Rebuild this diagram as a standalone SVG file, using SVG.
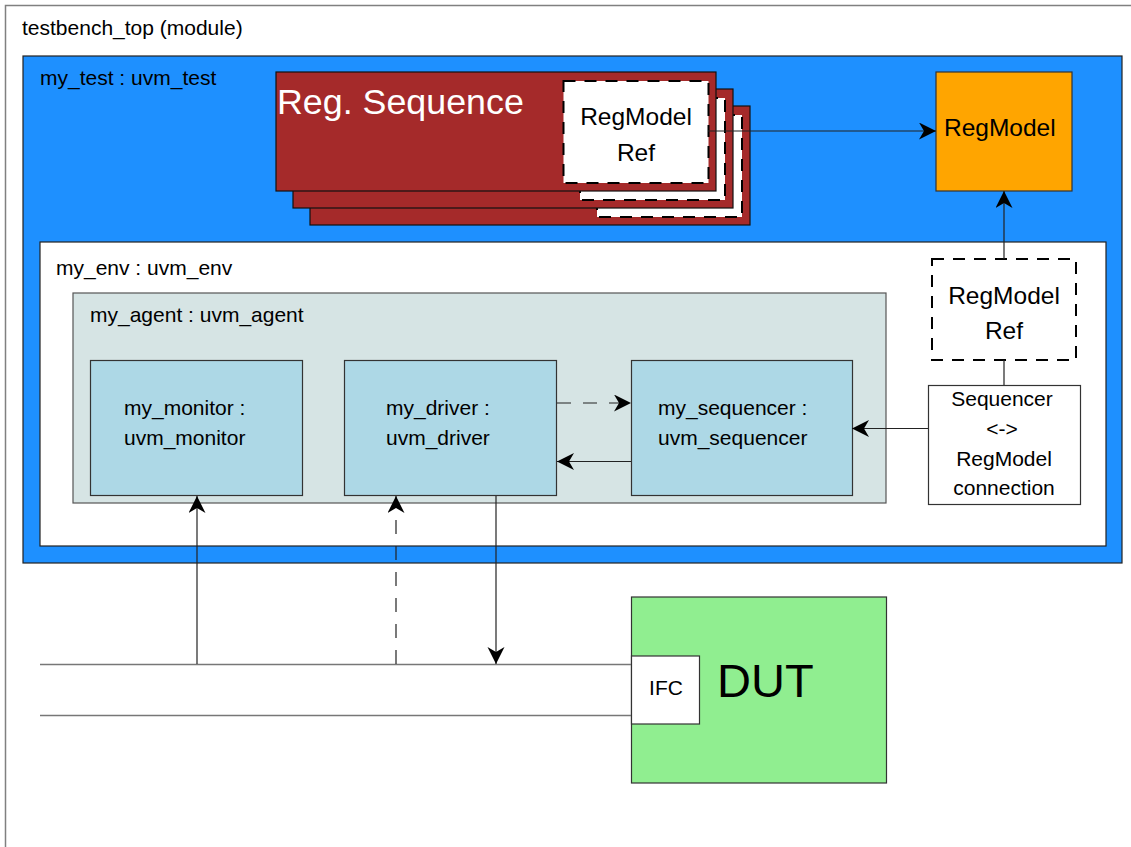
<svg xmlns="http://www.w3.org/2000/svg" width="1131" height="847" viewBox="0 0 1131 847">
<defs>
<style>
text{font-family:"Liberation Sans",Arial,sans-serif;fill:#000}
.lbl{font-size:21px}
.big{font-size:24.5px}
.mid{text-anchor:middle}
.box{stroke:#333;stroke-width:1.2}
.dref{fill:#fff;stroke:#000;stroke-width:2;stroke-dasharray:12 9}
.ln{fill:none;stroke:#222;stroke-width:1.2}
.dash{stroke-dasharray:14 12}
.bus{fill:none;stroke:#777;stroke-width:1.5}
</style>
<marker id="ah" markerWidth="20" markerHeight="18" refX="17" refY="8.5" orient="auto" markerUnits="userSpaceOnUse">
<path d="M0,0 L17,8.5 L0,17 L5,8.5 Z" fill="#000"/>
</marker>
</defs>
<rect width="1131" height="847" fill="#fff"/>
<g id="testbench_top">
<rect x="5.5" y="5.5" width="1140" height="860" fill="#fff" stroke="#808080" stroke-width="1.5"/>
<text class="lbl" x="22" y="35">testbench_top (module)</text>
</g>
<g id="my_test">
<rect x="23" y="56" width="1099" height="507" fill="#1e90ff" stroke="#222" stroke-width="1.2"/>
<text class="lbl" x="40" y="85">my_test : uvm_test</text>
</g>
<g id="reg_sequence">
<rect x="310" y="106" width="440" height="119" fill="#a52a2a" stroke="#111" stroke-width="1.2"/>
<rect x="597" y="115" width="145" height="102" class="dref"/>
<rect x="293" y="89" width="440" height="119" fill="#a52a2a" stroke="#111" stroke-width="1.2"/>
<rect x="580" y="98" width="145" height="102" class="dref"/>
<rect x="276" y="72" width="440" height="119" fill="#a52a2a" stroke="#111" stroke-width="1.2"/>
<text x="277" y="114" font-size="35.8" style="fill:#fff">Reg. Sequence</text>
<rect x="563.5" y="81" width="145" height="102" class="dref"/>
<text class="big mid" x="636" y="125">RegModel</text>
<text class="big mid" x="636" y="161">Ref</text>
</g>
<g id="regmodel">
<rect x="936" y="72" width="136" height="119" fill="#ffa500" class="box"/>
<text class="big" x="944" y="136">RegModel</text>
</g>
<g id="my_env">
<rect x="40" y="242" width="1066" height="304" fill="#fff" stroke="#222" stroke-width="1.2"/>
<text class="lbl" x="56" y="275">my_env : uvm_env</text>
</g>
<g id="env_regmodel_ref">
<rect x="932" y="259" width="144" height="101" class="dref"/>
<text class="big mid" x="1004" y="304">RegModel</text>
<text class="big mid" x="1004" y="339">Ref</text>
</g>
<g id="seq_regmodel_conn">
<rect x="928.5" y="385.5" width="152" height="119" fill="#fff" class="box"/>
<text class="lbl mid" x="1002" y="406">Sequencer</text>
<text class="lbl mid" x="1002" y="436">&lt;-&gt;</text>
<text class="lbl mid" x="1004" y="466">RegModel</text>
<text class="lbl mid" x="1004" y="495">connection</text>
</g>
<g id="my_agent">
<rect x="73" y="293" width="813" height="210" fill="#d6e4e4" stroke="#555" stroke-width="1.2"/>
<text class="lbl" x="90" y="322">my_agent : uvm_agent</text>
</g>
<g id="my_monitor">
<rect x="90.5" y="360.5" width="212" height="135" fill="#add8e6" class="box"/>
<text class="lbl" x="124" y="415">my_monitor :</text>
<text class="lbl" x="124" y="445">uvm_monitor</text>
</g>
<g id="my_driver">
<rect x="344.5" y="360.5" width="212" height="135" fill="#add8e6" class="box"/>
<text class="lbl" x="386" y="415">my_driver :</text>
<text class="lbl" x="386" y="445">uvm_driver</text>
</g>
<g id="my_sequencer">
<rect x="631.5" y="360.5" width="221" height="135" fill="#add8e6" class="box"/>
<text class="lbl" x="658" y="415">my_sequencer :</text>
<text class="lbl" x="658" y="445">uvm_sequencer</text>
</g>
<g id="dut">
<rect x="631.5" y="597" width="255" height="186" fill="#90ee90" class="box"/>
<rect x="631.5" y="656" width="68" height="68" fill="#fff" class="box"/>
<text class="lbl mid" x="666" y="695">IFC</text>
<text x="717" y="697" font-size="47">DUT</text>
</g>
<g id="connectors">
<line class="bus" x1="40" y1="664.5" x2="631" y2="664.5"/>
<line class="bus" x1="40" y1="715.5" x2="631" y2="715.5"/>
<line class="ln" x1="708" y1="131" x2="936" y2="131" marker-end="url(#ah)"/>
<line class="ln" x1="1004" y1="259" x2="1004" y2="191" marker-end="url(#ah)"/>
<line class="ln" x1="1004" y1="360" x2="1004" y2="385"/>
<line class="ln" x1="928" y1="428.5" x2="852" y2="428.5" marker-end="url(#ah)"/>
<line class="ln dash" x1="557" y1="403" x2="631" y2="403" marker-end="url(#ah)"/>
<line class="ln" x1="631" y1="461.5" x2="557" y2="461.5" marker-end="url(#ah)"/>
<line class="ln" x1="197" y1="664" x2="197" y2="496" marker-end="url(#ah)"/>
<line class="ln dash" x1="396" y1="664" x2="396" y2="496" marker-end="url(#ah)"/>
<line class="ln" x1="496" y1="496" x2="496" y2="664" marker-end="url(#ah)"/>
</g>
</svg>
